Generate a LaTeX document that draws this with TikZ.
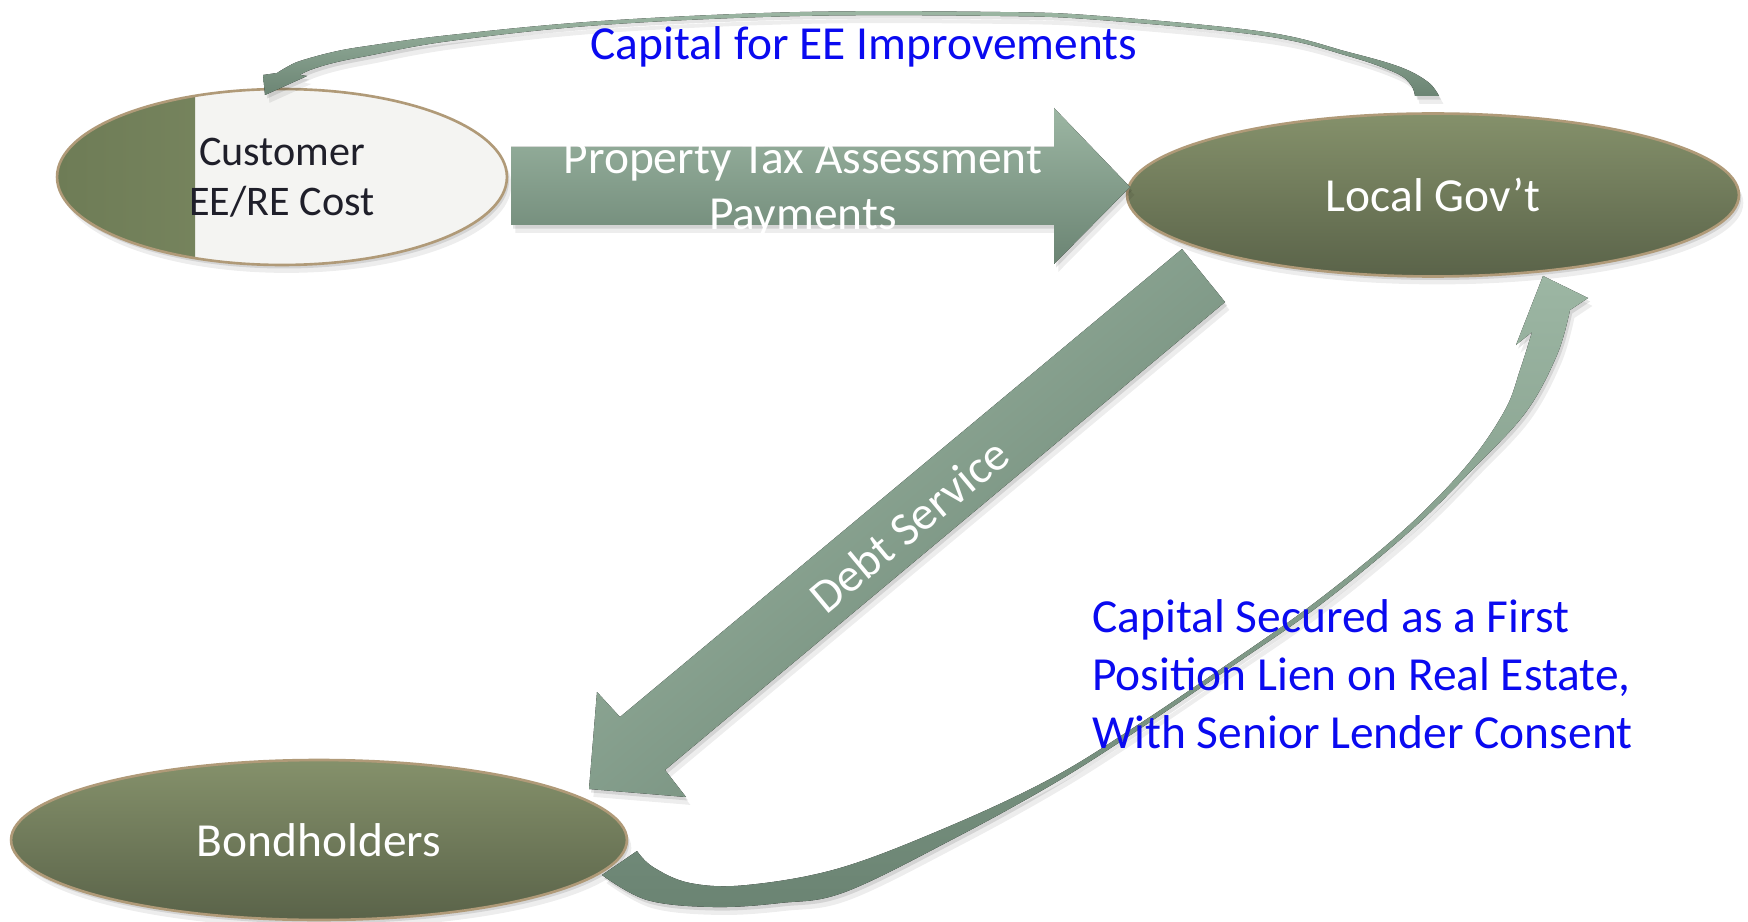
\documentclass[tikz,border=0pt]{standalone}
\usepackage{fontspec}
\setmainfont{Carlito}
\usetikzlibrary{shapes.geometric,shadows}
\definecolor{olivetop}{HTML}{85916B}
\definecolor{olivebot}{HTML}{5A6349}
\definecolor{rimtan}{HTML}{B09A78}
\definecolor{sagelight}{HTML}{9CB6A3}
\definecolor{sagedark}{HTML}{6B8473}
\definecolor{labelblue}{HTML}{0A0AF0}
\definecolor{custfill}{HTML}{F4F4F2}
\definecolor{stripdark}{HTML}{6E7C56}
\definecolor{striplight}{HTML}{86936C}
\definecolor{darktext}{HTML}{1F1F2A}
\begin{document}
\begin{tikzpicture}[x=0.02cm,y=-0.02cm,
  softshadow/.style={drop shadow={shadow xshift=1.2pt,shadow yshift=-2pt,opacity=0.10,fill=black},
                     drop shadow={shadow xshift=2.5pt,shadow yshift=-4.5pt,opacity=0.07,fill=black}},
  olivell/.style={ellipse, draw=rimtan, line width=1.5pt, top color=olivetop, bottom color=olivebot,
                  inner sep=0pt, text=white, font=\fontsize{27pt}{33pt}\selectfont, softshadow},
  arrowfill/.style={top color=sagelight, bottom color=sagedark, softshadow},
  whitetext/.style={text=white, inner sep=0pt, font=\fontsize{27pt}{32pt}\selectfont},
  bluelabel/.style={text=labelblue, inner sep=0pt, font=\fontsize{27pt}{33pt}\selectfont}]
\useasboundingbox[fill=white] (0,0) rectangle (1748,922);

% ---- ellipses
\node[ellipse, draw=rimtan, line width=1.5pt, fill=custfill, inner sep=0pt, softshadow,
      minimum width=9cm, minimum height=3.52cm,
      path picture={\fill[left color=stripdark,right color=striplight]
         ([yshift=-1cm]path picture bounding box.south west) rectangle
         ([xshift=2.76cm,yshift=1cm]path picture bounding box.north west);}]
      (cust) at (282,177) {};
\node[olivell, minimum width=12.24cm, minimum height=3.26cm] (gov) at (1433,195) {Local Gov’t};
\node[olivell, minimum width=12.32cm, minimum height=3.2cm] (bond) at (319,840) {Bondholders};

\node[text=darktext, inner sep=0pt, align=center, font=\fontsize{24pt}{28.5pt}\selectfont]
      (custtext) at (282,178) {Customer\\EE/RE Cost};

% ---- property tax block arrow
\fill[arrowfill] (511,147) -- (1054,147) -- (1054,108) -- (1130,187) -- (1054,264)
      -- (1054,225) -- (511,225) -- cycle;
\node[whitetext, align=center] (ptatext) at (803,190) {Property Tax Assessment\\Payments};

% ---- debt service block arrow
\fill[arrowfill, shading angle=40] (1182,249) -- (1225,302) -- (665,770) -- (686,797)
      -- (589,789) -- (597,692) -- (620,717) -- cycle;
\node[whitetext, rotate=39.8] (dstext) at (909,525) {Debt Service};

% ---- top curved arrow (Local Gov't -> Customer)
\fill[arrowfill]
  (277,73) -- plot[smooth,tension=0.6] coordinates {(277,73) (287,67) (300,61) (333,52) (367,46)
     (450,35) (601,21) (800,12) (1000,12) (1100,16) (1265,32) (1348,52) (1400,67) (1428,82) (1439,96)}
  -- (1415,96)
  -- plot[smooth,tension=0.6] coordinates {(1415,96) (1411,85) (1396,73) (1348,56) (1265,36)
     (1100,20) (1000,16) (800,16) (601,25) (450,41) (367,56) (333,63) (310,70) (300,75)}
  -- (307,76) -- (265,95) -- (263,75) -- cycle;

% ---- bottom curved arrow (Bondholders -> Local Gov't)
\fill[arrowfill]
  (602,875) -- (637,851)
  -- plot[smooth,tension=0.6] coordinates {(637,851) (653,867) (690,883) (747,885) (840,868)
     (950,826) (1050,779) (1130,730) (1228,664) (1317,601) (1406,528) (1468,464) (1505,410)
     (1520,370) (1532,332)}
  -- (1516,345) -- (1543,276) -- (1588,298) -- (1570,310)
  -- plot[smooth,tension=0.6] coordinates {(1570,310) (1557,355) (1526,412) (1474,468)
     (1410,531) (1320,605) (1231,667) (1132,734) (1053,784) (955,838) (845,892) (780,903)
     (713,907) (647,900) (602,875)}
  -- cycle;

% ---- blue labels
\node[bluelabel] (capee) at (864,47) {Capital for EE Improvements};
\node[bluelabel, align=left, anchor=west] (capsec) at (1092,674)
  {Capital Secured as a First\\Position Lien on Real Estate,\\With Senior Lender Consent};
\end{tikzpicture}
\end{document}
